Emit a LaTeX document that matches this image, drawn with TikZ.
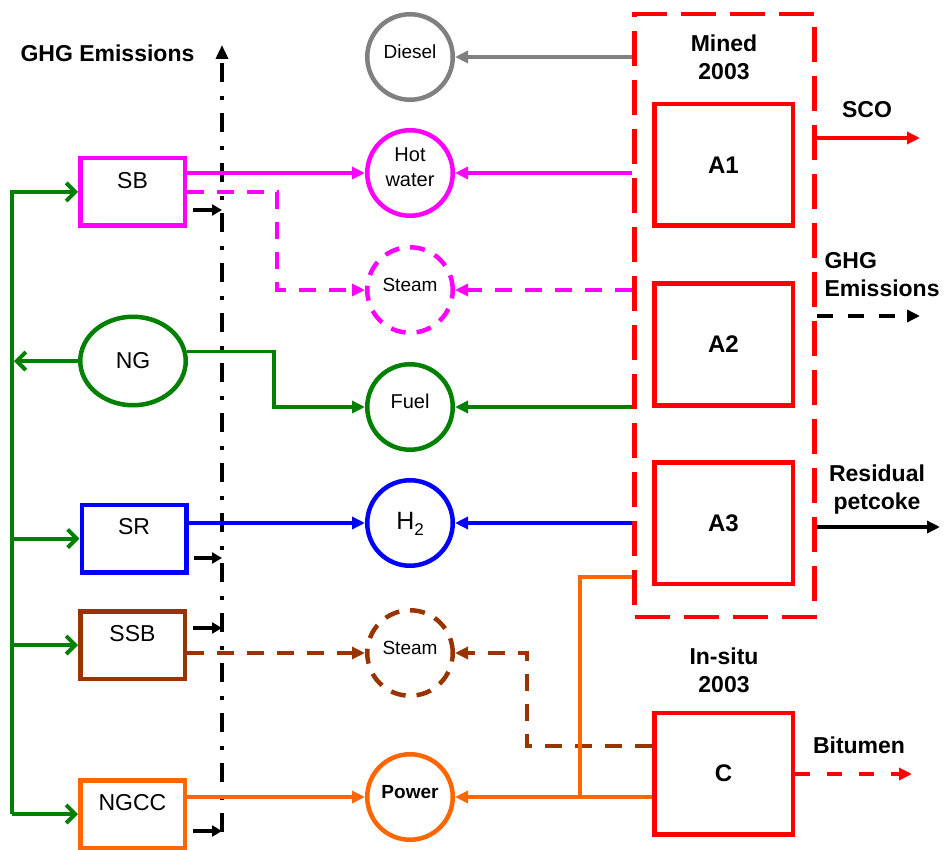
\documentclass[tikz,border=0pt]{standalone}
\usepackage{fontspec}
\setmainfont{Liberation Sans}
\usepackage{tikz}
\usetikzlibrary{arrows.meta,shapes.geometric,calc}
\definecolor{PGreen}{HTML}{008000}
\definecolor{PMagenta}{HTML}{FF00FF}
\definecolor{PBlue}{HTML}{0000FF}
\definecolor{PBrown}{HTML}{993300}
\definecolor{POrange}{HTML}{FF6600}
\definecolor{PRed}{HTML}{FF0000}
\definecolor{PGrey}{HTML}{808080}

\begin{document}
\begin{tikzpicture}[x=1pt,y=-1pt,
  unit/.style={rectangle,draw=PRed,line width=4.5pt,minimum width=138.5pt,minimum height=121.5pt,
               font=\fontsize{24}{28}\selectfont\bfseries},
  plant/.style={rectangle,line width=4.5pt,minimum width=104.5pt,minimum height=67.5pt,
                text depth=24pt,font=\fontsize{23}{27}\selectfont},
  stream/.style={circle,line width=4.5pt,minimum size=85.5pt,inner sep=0pt,align=center,
                 text depth=11pt,font=\fontsize{20}{25}\selectfont},
  tag/.style={font=\fontsize{23}{28}\selectfont\bfseries,align=center},
  flow/.style={line width=3.5pt,-{Triangle[length=13pt,width=12pt]}},
  feed/.style={line width=4pt,draw=PGreen,-{Straight Barb[length=9pt,width=18pt]}},
  emit/.style={line width=4pt,-{Triangle[length=10pt,width=11pt]}},
  longdash/.style={dash pattern=on 17pt off 13pt},
  ringdash/.style={dash pattern=on 15pt off 11pt}
]
\useasboundingbox (0,0) rectangle (945,850);

% oil sands operations
\node[rectangle,draw=PRed,line width=4.5pt,dash pattern=on 35pt off 14pt,
      minimum width=180pt,minimum height=603pt,inner sep=0pt] (mined) at (724.5,315.5) {};
\node[tag] (minedl) at (724,57) {Mined\\2003};
\node[unit] (a1) at (723.5,165) {A1};
\node[unit] (a2) at (723.5,344.5) {A2};
\node[unit] (a3) at (723.5,523) {A3};
\node[tag] (insitul) at (724,670) {In-situ\\2003};
\node[unit] (c) at (723.5,773.5) {C};

% energy streams
\node[stream,draw=PGrey,font=\fontsize{19}{23}\selectfont] (dsl) at (410,57) {Diesel};
\node[stream,draw=PMagenta] (hw) at (410,173) {Hot\\water};
\node[stream,draw=PMagenta,ringdash,font=\fontsize{19}{23}\selectfont] (st1) at (410,290) {Steam};
\node[stream,draw=PGreen] (fuel) at (410,407) {Fuel};
\node[stream,draw=PBlue,text depth=4pt,font=\fontsize{25}{28}\selectfont] (h2) at (410,523) {H\raisebox{-0.22em}{\fontsize{17}{17}\selectfont 2}};
\node[stream,draw=PBrown,ringdash,font=\fontsize{19}{23}\selectfont] (st2) at (410,653) {Steam};
\node[stream,draw=POrange,font=\fontsize{19}{23}\selectfont\bfseries] (pw) at (410,797) {Power};

% supply plants
\node[plant,draw=PMagenta] (sb) at (132.5,192) {SB};
\node[ellipse,draw=PGreen,line width=4.5pt,minimum width=105.5pt,minimum height=88.5pt,
      font=\fontsize{23}{27}\selectfont] (ng) at (133,361) {NG};
\node[plant,draw=PBlue] (sr) at (134,538.5) {SR};
\node[plant,draw=PBrown] (ssb) at (132.5,645) {SSB};
\node[plant,draw=POrange] (ngcc) at (132.5,814) {NGCC};

% GHG emissions boundary
\node[tag,anchor=west] (ghgl) at (17,53) {GHG Emissions};
\coordinate (gtip) at (222,45);
\coordinate (gend) at (222,832);
\draw[line width=4pt,dash pattern=on 19pt off 13pt on 4pt off 14pt,
      -{Triangle[length=14pt,width=12pt]}] (gend) -- (gtip);
\draw[emit] ([xshift=6pt,yshift=18pt]sb.south east) -- ++(29,0);
\draw[emit] ([xshift=5pt,yshift=16.5pt]sr.south east) -- ++(28.5,0);
\draw[emit] ([xshift=6pt,yshift=-19pt]ssb.north east) -- ++(29,0);
\draw[emit] ([xshift=6pt,yshift=19pt]ngcc.south east) -- ++(29,0);

% natural gas feed
\coordinate (gbus) at (12,0);
\draw[feed] (ngcc.west -| gbus) |- (sb.west);
\draw[feed] (ngcc.west -| gbus) -- (ngcc.west);
\draw[feed] (sr.west -| gbus) -- (sr.west);
\draw[feed] (ssb.west -| gbus) -- (ssb.west);
\draw[feed] (ng.west) -- ([xshift=2pt]ng.west -| gbus);

% supply to streams
\draw[flow,PMagenta] (sb.east |- hw.west) -- (hw.west);
\draw[flow,PMagenta,longdash] (sb.east) -- ++(90,0) |- (st1.west);
\draw[flow,PGreen] (ng.10) -- ++(87,0) |- (fuel.west);
\draw[flow,PBlue] (sr.east |- h2.west) -- (h2.west);
\draw[flow,PBrown,longdash] (ssb.east |- st2.west) -- (st2.west);
\draw[flow,POrange] (ngcc.east |- pw.west) -- (pw.west);

% demand of operations
\draw[flow,PGrey] (mined.west |- dsl.east) -- (dsl.east);
\draw[flow,PMagenta] (mined.west |- hw.east) -- (hw.east);
\draw[flow,PMagenta,longdash] (mined.west |- st1.east) -- (st1.east);
\draw[flow,PGreen] (mined.west |- fuel.east) -- (fuel.east);
\draw[flow,PBlue] (mined.west |- h2.east) -- (h2.east);
\coordinate (bj) at (527,746);
\draw[flow,PBrown,longdash] (c.west |- bj) -- (bj) |- (st2.east);
\draw[flow,POrange] (c.west |- pw.east) -- (pw.east);
\coordinate (oj) at (580,577);
\draw[line width=3.5pt,POrange] (oj |- pw.east) -- (oj) -- (mined.west |- oj);

% products
\coordinate (sco) at (920,138);
\coordinate (ghgr) at (920,316);
\coordinate (coke) at (940,527);
\coordinate (bit) at (912,774);
\draw[flow,PRed] (mined.east |- sco) -- (sco);
\draw[flow,black,dash pattern=on 16pt off 15pt] (mined.east |- ghgr) -- (ghgr);
\draw[flow,black] (mined.east |- coke) -- (coke);
\draw[flow,PRed,dash pattern=on 15pt off 17pt] (c.east |- bit) -- (bit);
\node[tag] (scol) at (867,110) {SCO};
\node[tag,align=left,anchor=west] (ghgrl) at (821,275) {GHG\\Emissions};
\node[tag] (cokel) at (877,490) {Residual\\petcoke};
\node[tag] (bitl) at (859,745) {Bitumen};
\end{tikzpicture}
\end{document}
